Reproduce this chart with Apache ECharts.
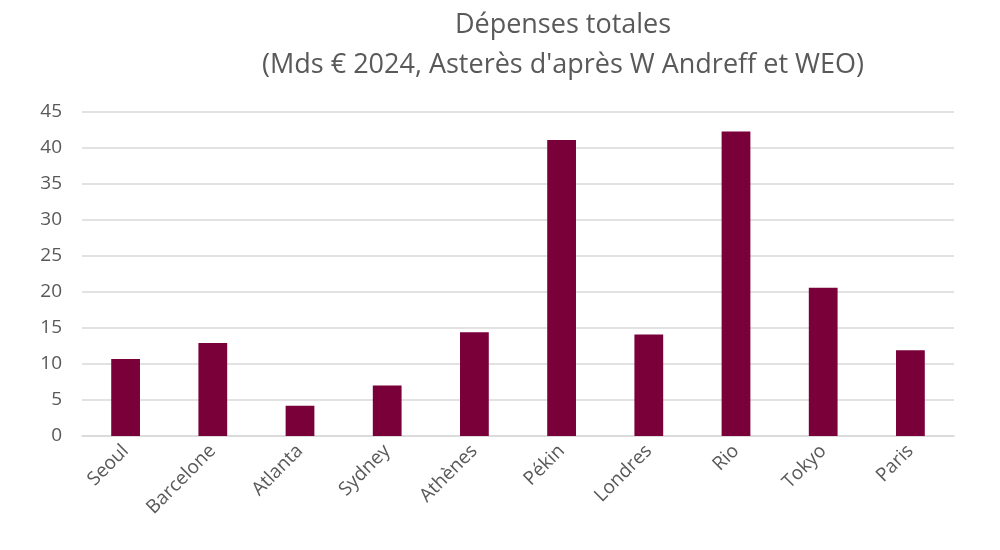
<!DOCTYPE html>
<html>
<head>
<meta charset="utf-8" />
<title>Dépenses totales</title>
<style type="text/css">
  html, body {height:100%; margin:0; padding:0; background:#fff;}
  #main {width:1000px; height:550px;}
</style>
<script type="text/javascript" src="https://cdn.jsdelivr.net/npm/echarts@6/dist/echarts.min.js"></script>
</head>
<body>
<div id="main"></div>
<script type="text/javascript">
var villes = ['Seoul', 'Barcelone', 'Atlanta', 'Sydney', 'Athènes', 'Pékin', 'Londres', 'Rio', 'Tokyo', 'Paris'];
var depenses = [10.7, 12.9, 4.2, 7.0, 14.4, 41.1, 14.1, 42.3, 20.6, 11.9];

var myChart = echarts.init(document.getElementById('main'));
var fontFam = '"Open Sans", "Noto Sans", sans-serif';

myChart.setOption({
  animation: false,
  title: {
    text: 'Dépenses totales\n(Mds € 2024, Asterès d\'après W Andreff et WEO)',
    left: 558,
    textAlign: 'center',
    top: 0,
    textStyle: {
      color: '#595959',
      fontSize: 27,
      fontWeight: 'normal',
      fontFamily: fontFam,
      lineHeight: 40
    }
  },
  grid: {left: 82, right: 46, top: 112, bottom: 114},
  xAxis: {
    type: 'category',
    data: villes,
    axisLine: {lineStyle: {color: '#d9d9d9', width: 1.5}},
    axisTick: {show: false},
    axisLabel: {
      rotate: 45,
      color: '#595959',
      fontSize: 19,
      fontFamily: fontFam,
      margin: 12
    }
  },
  yAxis: {
    type: 'value',
    min: 0,
    max: 45,
    interval: 5,
    axisLine: {show: false},
    axisTick: {show: false},
    axisLabel: {
      color: '#595959',
      fontSize: 19,
      fontFamily: fontFam,
      margin: 20
    },
    splitLine: {lineStyle: {color: '#d9d9d9', width: 1.5}}
  },
  series: [{
    name: 'Dépenses',
    type: 'bar',
    data: depenses,
    barWidth: '33%',
    itemStyle: {color: '#7a0039'}
  }]
});
</script>
</body>
</html>
